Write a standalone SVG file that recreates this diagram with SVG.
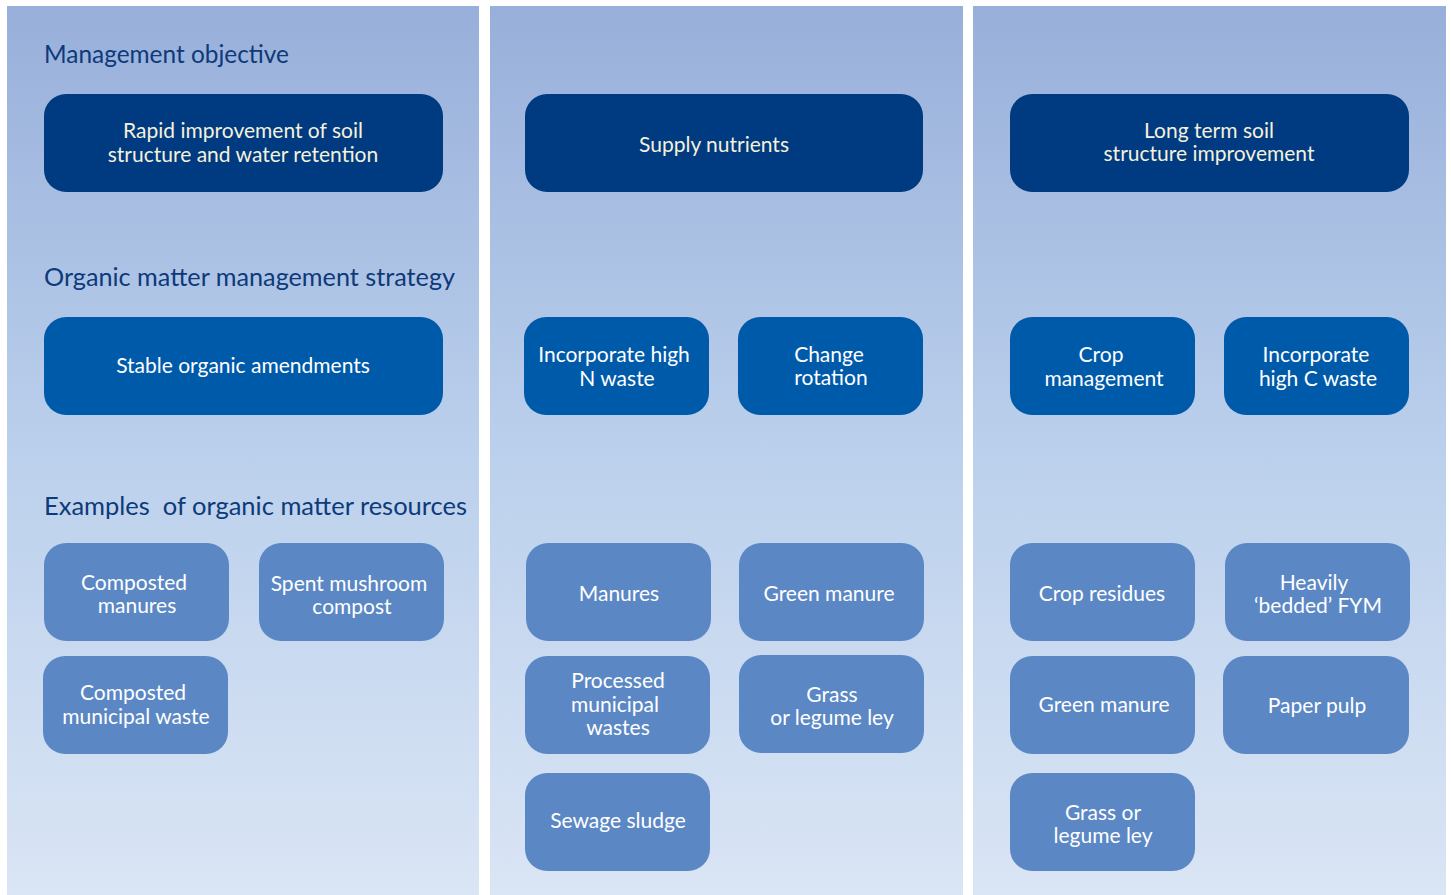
<svg xmlns="http://www.w3.org/2000/svg" width="1451" height="895" viewBox="0 0 1451 895">
<defs>
<linearGradient id="bg" x1="0" y1="0" x2="0" y2="1">
<stop offset="0" stop-color="#98AFDA"/>
<stop offset="0.5" stop-color="#BBD0EC"/>
<stop offset="1" stop-color="#DAE5F5"/>
</linearGradient>
<style>
.panel{fill:url(#bg)}
.dark{fill:#003A80}
.mid{fill:#005AAA}
.light{fill:#5B88C5}
.h{font-family:Lato,"Liberation Sans",sans-serif;font-size:25px;fill:#0D3A7A;white-space:pre}
.t{font-family:Lato,"Liberation Sans",sans-serif;font-size:21px;fill:#FFFFFF;text-anchor:middle}
.tc{fill:#F4F1DC}
</style>
</defs>
<rect width="1451" height="895" fill="#FFFFFF"/>
<rect class="panel" x="7" y="6" width="472" height="889"/>
<rect class="panel" x="490" y="6" width="473" height="889"/>
<rect class="panel" x="973" y="6" width="473" height="889"/>
<text class="h" x="44" y="63" textLength="245" lengthAdjust="spacingAndGlyphs">Management objective</text>
<text class="h" x="44" y="286" textLength="411" lengthAdjust="spacingAndGlyphs">Organic matter management strategy</text>
<text class="h" x="44" y="515" textLength="423" lengthAdjust="spacingAndGlyphs" xml:space="preserve">Examples  of organic matter resources</text>
<g id="obj1"><rect class="dark" x="44" y="94" width="399" height="98" rx="22"/><text class="t tc" x="243" y="138">Rapid improvement of soil</text><text class="t tc" x="243" y="162">structure and water retention</text></g>
<g id="obj2"><rect class="dark" x="525" y="94" width="398" height="98" rx="22"/><text class="t tc" x="714" y="152">Supply nutrients</text></g>
<g id="obj3"><rect class="dark" x="1010" y="94" width="399" height="98" rx="22"/><text class="t tc" x="1209" y="138">Long term soil</text><text class="t tc" x="1209" y="161">structure improvement</text></g>
<g id="s1"><rect class="mid" x="44" y="317" width="399" height="98" rx="22"/><text class="t" x="243" y="373">Stable organic amendments</text></g>
<g id="s2"><rect class="mid" x="524" y="317" width="185" height="98" rx="22"/><text class="t" x="614" y="362">Incorporate high</text><text class="t" x="617" y="386">N waste</text></g>
<g id="s3"><rect class="mid" x="738" y="317" width="185" height="98" rx="22"/><text class="t" x="829" y="362">Change</text><text class="t" x="831" y="385">rotation</text></g>
<g id="s4"><rect class="mid" x="1010" y="317" width="185" height="98" rx="22"/><text class="t" x="1101" y="362">Crop</text><text class="t" x="1104" y="386">management</text></g>
<g id="s5"><rect class="mid" x="1224" y="317" width="185" height="98" rx="22"/><text class="t" x="1316" y="362">Incorporate</text><text class="t" x="1318" y="386">high C waste</text></g>
<g id="e1"><rect class="light" x="44" y="543" width="185" height="98" rx="22"/><text class="t" x="134" y="590">Composted</text><text class="t" x="137" y="613">manures</text></g>
<g id="e2"><rect class="light" x="259" y="543" width="185" height="98" rx="22"/><text class="t" x="349" y="591">Spent mushroom</text><text class="t" x="352" y="614">compost</text></g>
<g id="e3"><rect class="light" x="43" y="656" width="185" height="98" rx="22"/><text class="t" x="133" y="700">Composted</text><text class="t" x="136" y="724">municipal waste</text></g>
<g id="e4"><rect class="light" x="526" y="543" width="185" height="98" rx="22"/><text class="t" x="619" y="601">Manures</text></g>
<g id="e5"><rect class="light" x="739" y="543" width="185" height="98" rx="22"/><text class="t" x="829" y="601">Green manure</text></g>
<g id="e6"><rect class="light" x="525" y="656" width="185" height="98" rx="22"/><text class="t" x="618" y="688">Processed</text><text class="t" x="615" y="712">municipal</text><text class="t" x="618" y="735">wastes</text></g>
<g id="e7"><rect class="light" x="739" y="655" width="185" height="98" rx="22"/><text class="t" x="832" y="702">Grass</text><text class="t" x="832" y="725">or legume ley</text></g>
<g id="e8"><rect class="light" x="525" y="773" width="185" height="98" rx="22"/><text class="t" x="618" y="828">Sewage sludge</text></g>
<g id="e9"><rect class="light" x="1010" y="543" width="185" height="98" rx="22"/><text class="t" x="1102" y="601">Crop residues</text></g>
<g id="e10"><rect class="light" x="1225" y="543" width="185" height="98" rx="22"/><text class="t" x="1314" y="590">Heavily</text><text class="t" x="1318" y="613">‘bedded’ FYM</text></g>
<g id="e11"><rect class="light" x="1010" y="656" width="185" height="98" rx="22"/><text class="t" x="1104" y="712">Green manure</text></g>
<g id="e12"><rect class="light" x="1223" y="656" width="186" height="98" rx="22"/><text class="t" x="1317" y="713">Paper pulp</text></g>
<g id="e13"><rect class="light" x="1010" y="773" width="185" height="98" rx="22"/><text class="t" x="1103" y="820">Grass or</text><text class="t" x="1103" y="843">legume ley</text></g>
<g id="connectors"></g>
</svg>
